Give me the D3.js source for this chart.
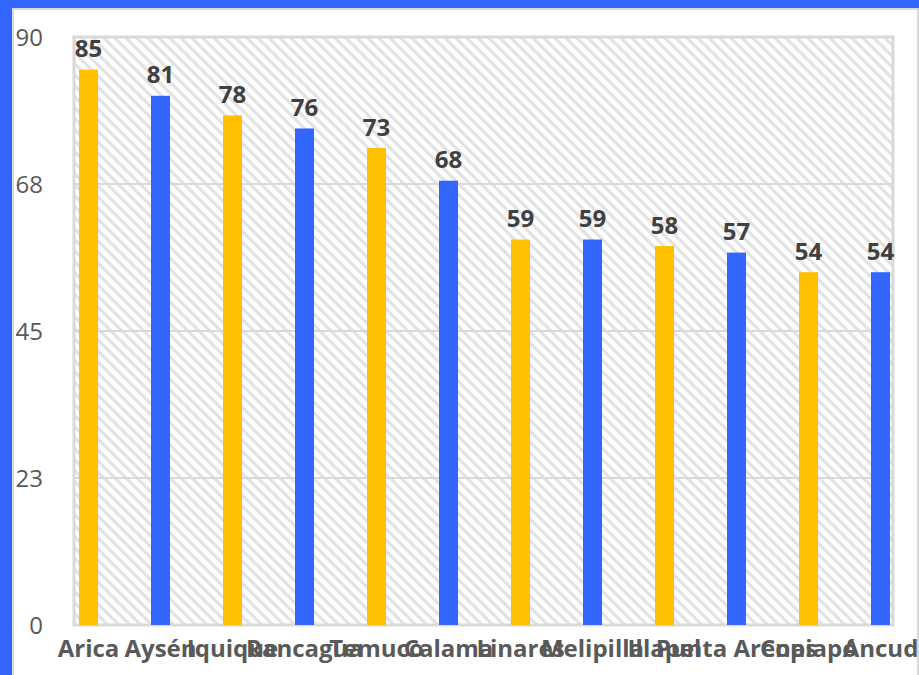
<!DOCTYPE html>
<html>
<head>
<meta charset="utf-8">
<script src="https://cdn.jsdelivr.net/npm/d3@7/dist/d3.min.js"></script>
<style>
html,body{margin:0;padding:0;background:#fff;}
svg{display:block;}
</style>
</head>
<body>
<svg id="chart" width="919" height="675"></svg>
<script>
const categories = ["Arica","Aysén","Iquique","Rancagua","Temuco","Calama","Linares","Melipilla","Illapel","Punta Arenas","Copiapó","Ancud"];
const values = [85,81,78,76,73,68,59,59,58,57,54,54];
const seriesIndex = [0,1,0,1,0,1,0,1,0,1,0,1];
const seriesColors = ["#ffc000","#3366ff"];
const yTicks = [0,22.5,45,67.5,90];
const yTickLabels = ["0","23","45","68","90"];

const svg = d3.select("#chart");
const W = 919, H = 675;

// frame
svg.append("rect").attr("x",0).attr("y",0).attr("width",W).attr("height",H).attr("fill","#3366ff");
svg.append("rect").attr("x",12).attr("y",8).attr("width",W-12).attr("height",H-8).attr("fill","#d9d9d9");
svg.append("rect").attr("x",14).attr("y",10).attr("width",W-14-2).attr("height",H-10).attr("fill","#ffffff");

// hatch pattern
const defs = svg.append("defs");
const pat = defs.append("pattern").attr("id","hatch").attr("patternUnits","userSpaceOnUse")
  .attr("width",11).attr("height",11);
pat.append("rect").attr("width",11).attr("height",11).attr("fill","#ffffff");
pat.append("path").attr("d","M-2,-2 L13,13 M-2,9 L2,13 M9,-2 L13,2")
  .attr("stroke","#e3e3e3").attr("stroke-width",3.2);

const plot = {left:74, top:37, right:893, bottom:625};

const y = d3.scaleLinear().domain([0,90]).range([plot.bottom, plot.top]);
const x = d3.scaleBand().domain(categories).range([52.5, 916.5])
  .paddingInner(0.736).paddingOuter(0.368);

svg.append("rect").attr("x",plot.left).attr("y",plot.top)
  .attr("width",plot.right-plot.left).attr("height",plot.bottom-plot.top)
  .attr("fill","url(#hatch)");

// gridlines
svg.append("g").selectAll("line").data(yTicks.slice(1,-1)).join("line")
  .attr("x1",plot.left).attr("x2",plot.right)
  .attr("y1",d=>y(d)).attr("y2",d=>y(d))
  .attr("stroke","#d9d9d9").attr("stroke-width",2);

// plot border
svg.append("rect").attr("x",plot.left).attr("y",plot.top)
  .attr("width",plot.right-plot.left).attr("height",plot.bottom-plot.top)
  .attr("fill","none").attr("stroke","#d9d9d9").attr("stroke-width",3);

// y axis labels
const yAxis = d3.axisLeft(y).tickValues(yTicks).tickFormat((d,i)=>yTickLabels[i]).tickSize(0).tickPadding(0);
const gy = svg.append("g").attr("transform","translate(43,0)").call(yAxis);
gy.select(".domain").remove();
gy.selectAll("text").attr("font-family","'Open Sans', sans-serif").attr("font-size",24)
  .attr("fill","#595959").attr("dy","0.35em");

// bars
svg.append("g").selectAll("rect").data(values).join("rect")
  .attr("x",(d,i)=>x(categories[i]))
  .attr("width",x.bandwidth())
  .attr("y",d=>y(d))
  .attr("height",d=>y(0)-y(d))
  .attr("fill",(d,i)=>seriesColors[seriesIndex[i]]);

// value labels
svg.append("g").selectAll("text").data(values).join("text")
  .attr("x",(d,i)=>x(categories[i])+x.bandwidth()/2)
  .attr("y",d=>y(d)-12.5)
  .attr("text-anchor","middle")
  .attr("font-family","'Open Sans', sans-serif").attr("font-weight","bold").attr("font-size",24)
  .attr("fill","#404040")
  .text(d=>d);

// x axis labels
const xAxis = d3.axisBottom(x).tickSize(0).tickPadding(0);
const gx = svg.append("g").attr("transform","translate(0,657)").call(xAxis);
gx.select(".domain").remove();
gx.selectAll("text").attr("font-family","'Open Sans', sans-serif").attr("font-weight","bold")
  .attr("font-size",24).attr("fill","#595959").attr("dy",0).attr("y",0);
</script>
</body>
</html>
